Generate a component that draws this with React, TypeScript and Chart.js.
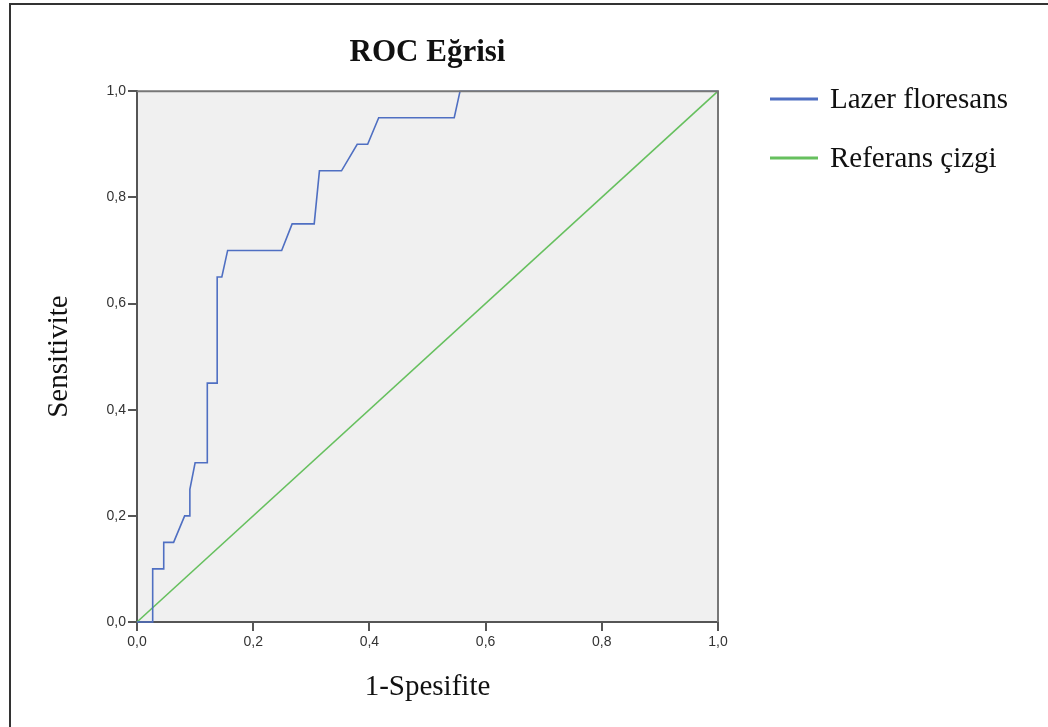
import React, { useEffect, useRef } from "react";
import { Chart, registerables } from "chart.js";

Chart.register(...registerables);

const chartTitle = "ROC Eğrisi";
const xAxisTitle = "1-Spesifite";
const yAxisTitle = "Sensitivite";
const seriesNames = ["Lazer floresans", "Referans çizgi"];
const seriesColors = ["#4f6fc2", "#66c05e"];

// ROC curve points: 1-specificity (x) and sensitivity (y)
const rocFpr = [0, 0.027, 0.027, 0.046, 0.046, 0.063, 0.082, 0.091, 0.091, 0.1, 0.121, 0.121, 0.138, 0.138, 0.146, 0.156, 0.249, 0.267, 0.305, 0.314, 0.352, 0.379, 0.397, 0.416, 0.546, 0.556, 1];
const rocTpr = [0, 0, 0.1, 0.1, 0.15, 0.15, 0.2, 0.2, 0.25, 0.3, 0.3, 0.45, 0.45, 0.65, 0.65, 0.7, 0.7, 0.75, 0.75, 0.85, 0.85, 0.9, 0.9, 0.95, 0.95, 1, 1];
const refX = [0, 1];
const refY = [0, 1];
const tickValues = [0, 0.2, 0.4, 0.6, 0.8, 1.0];

const fmt = (v: number) => Number(v).toFixed(1).replace(".", ",");

export default function App() {
  const ref = useRef<HTMLCanvasElement | null>(null);
  useEffect(() => {
    if (!ref.current) return;
    const decor = {
      id: "decor",
      beforeDraw(chart: any) {
        const { ctx, chartArea: a } = chart;
        ctx.save();
        ctx.fillStyle = "#ffffff";
        ctx.fillRect(0, 0, chart.width, chart.height);
        ctx.fillStyle = "#f0f0f0";
        ctx.fillRect(a.left, a.top, a.right - a.left, a.bottom - a.top);
        // outer image frame
        ctx.strokeStyle = "#333333";
        ctx.lineWidth = 2;
        ctx.beginPath();
        ctx.moveTo(10, 727);
        ctx.lineTo(10, 4);
        ctx.lineTo(1048, 4);
        ctx.stroke();
        ctx.restore();
      },
      afterDatasetsDraw(chart: any) {
        const { ctx, chartArea: a } = chart;
        ctx.save();
        // plot frame top/right
        ctx.strokeStyle = "#777777";
        ctx.lineWidth = 2;
        ctx.beginPath();
        ctx.moveTo(a.left, a.top);
        ctx.lineTo(a.right, a.top);
        ctx.lineTo(a.right, a.bottom);
        ctx.stroke();
        // legend
        const items = [
          { y: 99, name: seriesNames[0], color: seriesColors[0] },
          { y: 158, name: seriesNames[1], color: seriesColors[1] },
        ];
        ctx.font = '29px "Liberation Serif", "Times New Roman", serif';
        ctx.textBaseline = "middle";
        ctx.textAlign = "left";
        for (const it of items) {
          ctx.strokeStyle = it.color;
          ctx.lineWidth = 3;
          ctx.beginPath();
          ctx.moveTo(770, it.y);
          ctx.lineTo(818, it.y);
          ctx.stroke();
          ctx.fillStyle = "#111111";
          ctx.fillText(it.name, 830, it.y + 1);
        }
        ctx.restore();
      },
    };

    const chart = new Chart(ref.current, {
      type: "scatter",
      data: {
        datasets: [
          {
            label: seriesNames[0],
            data: rocFpr.map((x, i) => ({ x, y: rocTpr[i] })),
            showLine: true,
            borderColor: seriesColors[0],
            borderWidth: 1.6,
            pointRadius: 0,
            tension: 0,
            fill: false,
            order: 1,
          },
          {
            label: seriesNames[1],
            data: refX.map((x, i) => ({ x, y: refY[i] })),
            showLine: true,
            borderColor: seriesColors[1],
            borderWidth: 1.6,
            pointRadius: 0,
            tension: 0,
            fill: false,
            order: 2,
          },
        ],
      },
      options: {
        responsive: false,
        animation: false,
        clip: false as any,
        layout: { padding: { left: 0, right: 330, top: 0, bottom: 0 } },
        plugins: {
          legend: { display: false },
          tooltip: { enabled: false },
          title: {
            display: true,
            text: chartTitle,
            fullSize: false,
            color: "#111111",
            font: { family: '"Liberation Serif", "Times New Roman", serif', size: 31, weight: "bold" },
            padding: { top: 34, bottom: 20 },
          },
        },
        scales: {
          x: {
            type: "linear",
            min: 0,
            max: 1,
            afterBuildTicks: (s: any) => {
              s.ticks = tickValues.map((v) => ({ value: v }));
            },
            afterFit: (s: any) => {
              s.height = 105;
            },
            ticks: {
              callback: (v: any) => fmt(v),
              color: "#333333",
              font: { family: '"Liberation Sans", Arial, sans-serif', size: 14 },
              padding: 3,
              maxRotation: 0,
            },
            grid: { drawOnChartArea: false, drawTicks: true, tickLength: 9, color: "#555555", lineWidth: 2 },
            border: { display: true, color: "#555555", width: 2 },
            title: {
              display: true,
              text: xAxisTitle,
              color: "#111111",
              font: { family: '"Liberation Serif", "Times New Roman", serif', size: 29 },
              padding: { top: 0, bottom: 22 },
            },
          },
          y: {
            type: "linear",
            min: 0,
            max: 1,
            afterBuildTicks: (s: any) => {
              s.ticks = tickValues.map((v) => ({ value: v }));
            },
            afterFit: (s: any) => {
              s.width = 137;
            },
            ticks: {
              callback: (v: any) => fmt(v),
              color: "#333333",
              font: { family: '"Liberation Sans", Arial, sans-serif', size: 14 },
              padding: 2,
            },
            grid: { drawOnChartArea: false, drawTicks: true, tickLength: 9, color: "#555555", lineWidth: 2 },
            border: { display: true, color: "#555555", width: 2 },
            title: {
              display: true,
              text: yAxisTitle,
              color: "#111111",
              font: { family: '"Liberation Serif", "Times New Roman", serif', size: 29 },
              padding: { top: 42, bottom: 0 },
            },
          },
        },
      },
      plugins: [decor],
    } as any);
    return () => chart.destroy();
  }, []);

  return (
    <div style={{ position: "absolute", left: 0, top: 0, width: 1048, height: 727 }}>
      <canvas ref={ref} width={1048} height={727} style={{ display: "block" }} />
    </div>
  );
}
